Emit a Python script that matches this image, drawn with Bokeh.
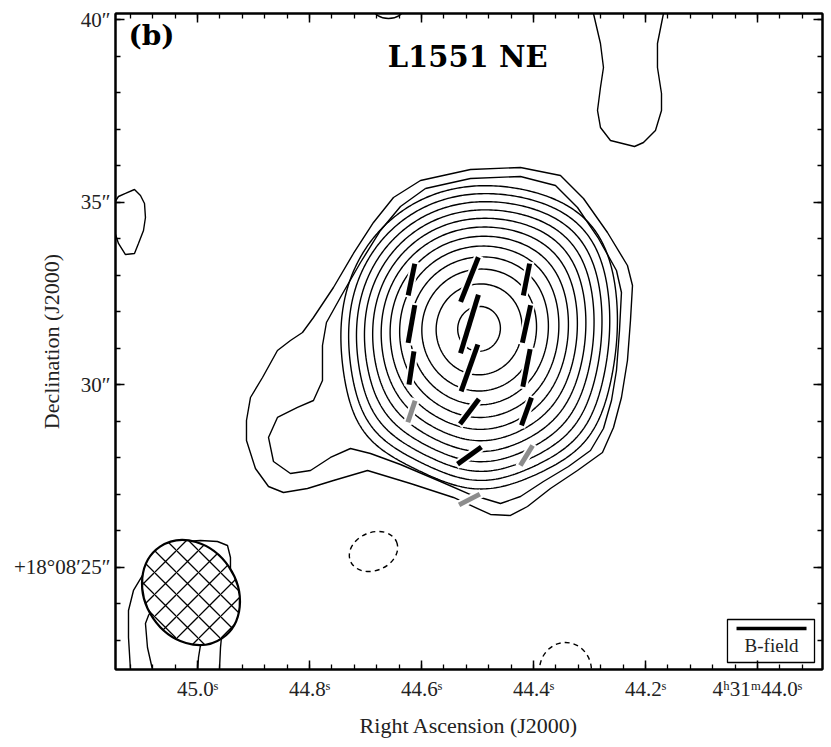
import numpy as np
from bokeh.plotting import figure
from bokeh.models import Range1d, FixedTicker, LinearAxis, Label, BoxAnnotation, CustomLabelingPolicy
from bokeh.embed import file_html
from bokeh.resources import INLINE

# ---------------- data ----------------
# sky frame: x = RA seconds of 4h31m, y = Dec arcsec of +18d08m
RA_LEFT, RA_RIGHT = 45.1464, 43.8839
DEC_BOT, DEC_TOP = 22.205, 40.178
COS_DEC = 0.95033  # cos(18.136 deg)

# model of the dust emission (Gaussian components)
comp_ra = [44.4982, 44.7268, 44.2804, 44.4947, 44.2893]
comp_dec = [31.548, 28.205, 34.644, 26.972, 28.068]
comp_amp = [29.8, 2.1, 1.8, 2.2, 2.0]
comp_sx = [3.562, 1.273, 1.400, 1.273, 1.273]   # arcsec
comp_sy = [3.973, 1.370, 1.507, 1.370, 1.370]   # arcsec
levels_inner = [18.5, 19.5, 20.5, 21.5, 22.5, 23.5, 24.5, 25.5, 26.5, 27.5, 28.5, 29.5]

# lowest two contours of L1551 NE (traced)
c1_ra = [44.6018, 44.5125, 44.4232, 44.3518, 44.3107, 44.2679, 44.2322, 44.2232, 44.2268, 44.2322,
         44.2429, 44.2571, 44.2768, 44.3215, 44.3697, 44.4107, 44.4411, 44.4768, 44.5429, 44.6197,
         44.6964, 44.7572, 44.8036, 44.8465, 44.8732, 44.8965, 44.9125, 44.9125, 44.9054, 44.8839,
         44.8572, 44.8340, 44.8125, 44.7929, 44.7572, 44.7215, 44.6857, 44.6500, 44.6018]
c1_dec = [35.603, 35.904, 35.959, 35.740, 35.110, 34.178, 33.274, 32.726, 31.767, 30.671,
          29.657, 28.836, 28.151, 27.658, 27.164, 26.671, 26.425, 26.452, 26.918, 27.301,
          27.658, 27.384, 27.164, 27.055, 27.219, 27.712, 28.479, 29.027, 29.657, 30.205,
          30.945, 31.219, 31.438, 31.849, 32.671, 33.603, 34.452, 35.137, 35.603]
c2_ra = [44.5929, 44.5125, 44.4232, 44.3607, 44.3214, 44.2839, 44.2518, 44.2429, 44.2464, 44.2518,
         44.2607, 44.2750, 44.2982, 44.3375, 44.3822, 44.4232, 44.4589, 44.5125, 44.5661, 44.6375,
         44.6911, 44.7268, 44.7625, 44.7982, 44.8340, 44.8643, 44.8732, 44.8572, 44.8214, 44.7929,
         44.7768, 44.7768, 44.7697, 44.7429, 44.7089, 44.6732, 44.6375, 44.5929]
c2_dec = [35.383, 35.658, 35.712, 35.466, 34.863, 34.014, 33.137, 32.534, 31.493, 30.397,
          29.575, 28.808, 28.205, 27.767, 27.356, 26.945, 26.753, 26.999, 27.356, 27.822,
          28.123, 28.260, 28.014, 27.658, 27.575, 27.904, 28.562, 29.110, 29.384, 29.575,
          30.123, 31.082, 31.712, 32.452, 33.356, 34.233, 34.890, 35.383]

# faint emission around the field (traced)
tongue_ra = [44.2964, 44.2929, 44.2804, 44.2750, 44.2804, 44.2857, 44.2804, 44.2625, 44.2196, 44.2036,
             44.1822, 44.1714, 44.1714, 44.1786, 44.1786, 44.1679, 44.1643]
tongue_dec = [40.534, 40.178, 39.356, 38.699, 38.151, 37.521, 37.055, 36.699, 36.534, 36.644,
              36.973, 37.521, 37.986, 38.699, 39.356, 40.178, 40.534]
blob_ra = [45.1286, 45.1125, 45.1018, 45.0946, 45.0929, 45.0964, 45.1054, 45.1125, 45.1286, 45.1411,
           45.1518, 45.1518, 45.1411, 45.1286]
blob_dec = [35.247, 35.356, 35.192, 34.973, 34.589, 34.233, 33.877, 33.603, 33.575, 33.877,
            34.370, 34.918, 35.164, 35.247]
sw_outer_ra = [45.1197, 45.1197, 45.1232, 45.1232, 45.1143, 45.0982, 45.0661, 45.0214, 44.9947, 44.9643,
               44.9464, 44.9411, 44.9411, 44.9572, 44.9589, 44.9607, 44.9607]
sw_outer_dec = [21.904, 22.205, 23.082, 23.822, 24.370, 24.781, 25.384, 25.712, 25.740, 25.712,
                25.603, 25.274, 23.822, 23.082, 22.808, 22.205, 21.904]
sw_inner_ra = [45.0804, 45.0804, 45.0893, 45.0929, 45.0875, 45.0661, 45.0304, 44.9982, 44.9947, 44.9982,
               44.9996, 44.9996]
sw_inner_dec = [21.904, 22.205, 22.808, 23.466, 23.685, 24.178, 24.288, 23.822, 22.863, 22.534,
                22.205, 21.904]
# isolated contours: RA, Dec, width (s), height ("), angle (rad), negative?
iso_ra = [44.6589, 44.6857, 44.3429]
iso_dec = [40.315, 25.438, 22.178]
iso_w = [0.0536, 0.0893, 0.0929]
iso_h = [0.548, 1.041, 1.534]
iso_ang = [0.0, 0.4, 0.0]
iso_neg = [False, True, True]

# polarization (B-field) vectors
pol_ra = [44.6179, 44.6179, 44.6179, 44.6179,
          44.5143, 44.5143, 44.5143, 44.5143, 44.5143, 44.5143,
          44.4125, 44.4125, 44.4125, 44.4125, 44.4125]
pol_dec = [32.890, 31.671, 30.466, 29.274,
           32.890, 31.671, 30.466, 29.274, 28.068, 26.863,
           32.890, 31.671, 30.466, 29.274, 28.068]
pol_pa = [-11.8, -10.0, -8.5, -18.6,
          -21.7, -17.0, -19.6, -37.2, -54.2, -62.7,
          -11.2, -12.4, -11.0, -19.9, -31.6]
pol_frac = [5.4, 6.4, 5.6, 3.8,
            8.0, 10.2, 8.3, 5.2, 4.9, 3.9,
            5.4, 6.4, 6.4, 4.9, 3.9]
pol_strong = [1, 1, 1, 0,
              1, 1, 1, 1, 1, 0,
              1, 1, 1, 1, 0]

# synthesized beam
beam_ra, beam_dec = 45.0116, 24.315
beam_maj, beam_min, beam_pa = 3.03, 2.332, 34.0   # arcsec, arcsec, deg

x_major = [45.0, 44.8, 44.6, 44.4, 44.2, 44.0]
x_labels = ["45.0ˢ", "44.8ˢ", "44.6ˢ", "44.4ˢ", "44.2ˢ", "4ʰ31ᵐ44.0ˢ"]
y_major = [25, 30, 35, 40]
y_labels = ["+18°08′25″", "30″", "35″", "40″"]

# ---------------- figure ----------------
SERIF = "Liberation Serif"
p = figure(x_range=Range1d(RA_LEFT, RA_RIGHT), y_range=Range1d(DEC_BOT, DEC_TOP),
           frame_width=707, frame_height=656, min_border_left=115, min_border_top=13,
           min_border_right=1, min_border_bottom=76,
           output_backend="svg", toolbar_location=None, x_axis_location=None, y_axis_location=None)
p.grid.visible = False
p.outline_line_color = "black"
p.outline_line_width = 2
p.background_fill_color = "white"
p.border_fill_color = "white"

x_minor = [round(v, 2) for v in np.arange(43.92, 45.15, 0.04)]
y_minor = list(range(23, 41))

hide_labels = CustomLabelingPolicy(code="""
const all = [...indices]
for (const i of all) indices.unset(i)
return indices
""")


def make_axis(ticks, minor, labels, show):
    ax = LinearAxis(ticker=FixedTicker(ticks=ticks, minor_ticks=minor))
    ax.major_tick_in = 9
    ax.major_tick_out = 0
    ax.minor_tick_in = 5
    ax.minor_tick_out = 0
    ax.major_tick_line_width = 1.5
    ax.minor_tick_line_width = 1.3
    ax.axis_line_width = 2
    if show:
        ax.major_label_overrides = dict(zip(ticks, labels))
        ax.major_label_text_font = SERIF
        ax.major_label_text_font_size = "21px"
        ax.major_label_text_color = "#222222"
    else:
        ax.major_label_policy = hide_labels
        ax.major_label_standoff = 0
    return ax


bottom = make_axis(x_major, x_minor, x_labels, True)
bottom.major_label_standoff = 7
bottom.axis_label = "Right Ascension (J2000)"
bottom.axis_label_standoff = 9
left = make_axis(y_major, y_minor, y_labels, True)
left.major_label_standoff = 5
left.axis_label = "Declination (J2000)"
left.axis_label_standoff = -53
for ax in (bottom, left):
    ax.axis_label_text_font = SERIF
    ax.axis_label_text_font_size = "22px"
    ax.axis_label_text_font_style = "normal"
    ax.axis_label_text_color = "#222222"
p.add_layout(bottom, "below")
p.add_layout(left, "left")
p.add_layout(make_axis(x_major, x_minor, x_labels, False), "above")
p.add_layout(make_axis(y_major, y_minor, y_labels, False), "right")

# model contours
gx = np.linspace(43.80, 45.25, 340)
gy = np.linspace(21.5, 41.0, 340)
GX, GY = np.meshgrid(gx, gy)
field = np.zeros_like(GX)
for ra0, de0, a, sx, sy in zip(comp_ra, comp_dec, comp_amp, comp_sx, comp_sy):
    dx = (GX - ra0) * 15.0 * COS_DEC
    dy = GY - de0
    field += a * np.exp(-0.5 * ((dx / sx) ** 2 + (dy / sy) ** 2))
p.contour(gx, gy, field, levels_inner, line_color="black", line_width=1.4)

# traced contours
p.multi_line([c1_ra, c2_ra, tongue_ra, blob_ra, sw_outer_ra, sw_inner_ra],
             [c1_dec, c2_dec, tongue_dec, blob_dec, sw_outer_dec, sw_inner_dec],
             line_color="black", line_width=1.4)
for ra0, de0, w, h, ang, neg in zip(iso_ra, iso_dec, iso_w, iso_h, iso_ang, iso_neg):
    p.ellipse(x=[ra0], y=[de0], width=[w], height=[h], angle=[ang], fill_color=None,
              line_color="black", line_width=1.4, line_dash="5 4" if neg else "solid")

# B-field vectors with white halo
ang = [np.radians(90.0 + pa) for pa in pol_pa]
lens = [f * 6.0 for f in pol_frac]
p.rect(x=pol_ra, y=pol_dec, width=[l + 4 for l in lens], height=9, angle=ang,
       width_units="screen", height_units="screen", fill_color="white", line_color=None)
cols = ["black" if s else "#8c8c8c" for s in pol_strong]
p.rect(x=pol_ra, y=pol_dec, width=lens, height=5, angle=ang,
       width_units="screen", height_units="screen", fill_color=cols, line_color=None)

# beam
p.ellipse(x=[beam_ra], y=[beam_dec], width=[beam_min / (15.0 * COS_DEC)], height=[beam_maj],
          angle=[np.radians(beam_pa)], fill_color="white", line_color="black", line_width=2.2,
          hatch_pattern="x", hatch_scale=22, hatch_weight=1.3, hatch_color="black")


def fx(f):
    return RA_LEFT + f * (RA_RIGHT - RA_LEFT)


def fy(f):
    return DEC_BOT + f * (DEC_TOP - DEC_BOT)


# legend box
p.add_layout(BoxAnnotation(left=fx(0.8656), right=fx(0.9887), bottom=fy(0.0107), top=fy(0.0762),
                           fill_color="white", fill_alpha=1.0, line_color="black", line_width=1.3,
                           line_alpha=1.0, level="underlay"))
p.segment(x0=[fx(0.8784)], y0=[fy(0.0625)], x1=[fx(0.9774)], y1=[fy(0.0625)],
          line_color="black", line_width=3.5)
p.add_layout(Label(x=fx(0.9279), y=fy(0.0366), text="B-field", text_font=SERIF,
                   text_font_size="19px", text_align="center", text_baseline="middle",
                   text_color="#222222"))

# annotations
p.add_layout(Label(x=fx(0.498), y=fy(0.934), text="L1551 NE", text_font="DejaVu Serif",
                   text_font_style="bold", text_font_size="29px", text_align="center",
                   text_baseline="alphabetic", text_color="black"))
p.add_layout(Label(x=fx(0.0184), y=fy(0.967), text="(b)", text_font="DejaVu Serif",
                   text_font_style="bold", text_font_size="28px", text_align="left",
                   text_baseline="alphabetic", text_color="black"))

open("out.html", "w").write(file_html(p, INLINE))
